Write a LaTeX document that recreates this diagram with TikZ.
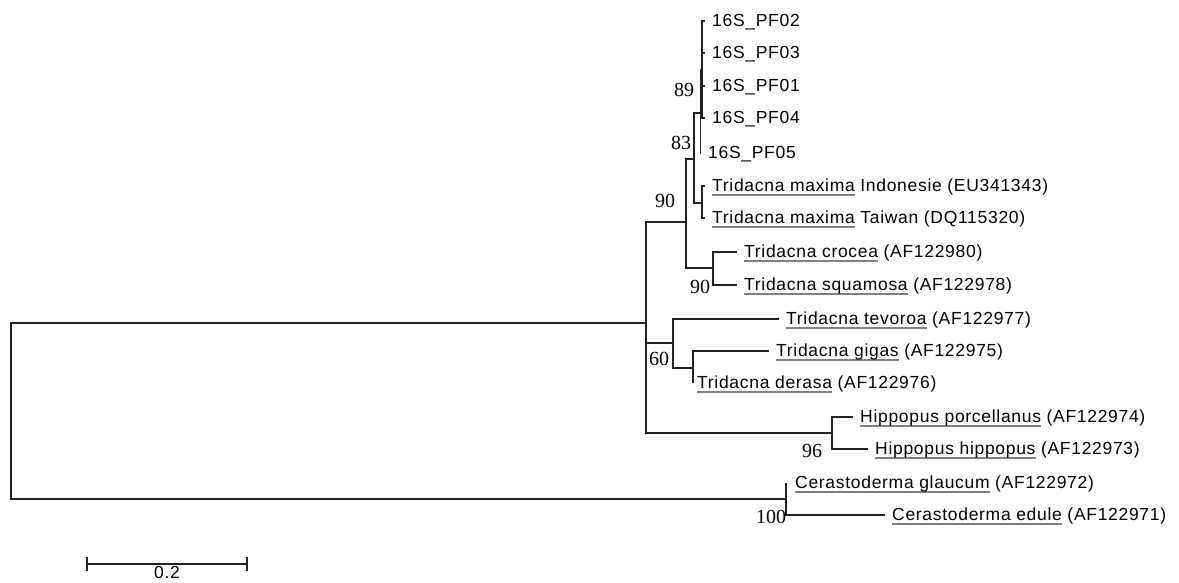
\documentclass[tikz,border=0pt]{standalone}
\usepackage{fontspec}
\setmainfont{Liberation Serif}
\newfontfamily\taxonfont[LetterSpace=4]{Liberation Sans}
\usetikzlibrary{positioning}
\definecolor{branchgray}{HTML}{222222}
\definecolor{ulinegray}{HTML}{808080}
% species part of a taxon label, underlined in gray
\newcommand{\spname}[1]{\begingroup\setbox0\hbox{#1}\rlap{\color{ulinegray}\rule[-5pt]{\wd0}{1.6pt}}\box0\endgroup}
\tikzset{
    branch/.style={draw=branchgray, line width=1.6pt},
    taxon/.style={inner sep=0pt, text height=13pt, text depth=3pt, font=\taxonfont\fontsize{17.5}{20}\selectfont},
    boot/.style={inner sep=0pt, font=\fontsize{20}{22}\selectfont},
    scalelabel/.style={inner sep=0pt, font=\taxonfont\fontsize{17.5}{20}\selectfont},
}

\begin{document}
\begin{tikzpicture}[x=1pt, y=-1pt]
    \useasboundingbox (0,0) rectangle (1179,582);
    % internal nodes
    \coordinate (root) at (11,411);
    \coordinate (tri) at (646,323);
    \coordinate (cer) at (786,499);
    \coordinate (cla) at (686,222);
    \coordinate (pfm) at (694,159);
    \coordinate (n83) at (700.4,113);
    \coordinate (n89) at (702,70);
    \coordinate (max) at (702,203);
    \coordinate (cs) at (713,268);
    \coordinate (n60) at (673,343);
    \coordinate (gd) at (693,368);
    \coordinate (hip) at (832,433);
    % tips
    \coordinate (t1) at (705,21);
    \coordinate (t2) at (705,53);
    \coordinate (t3) at (705,86);
    \coordinate (t4) at (705,118);
    \coordinate (t5) at (701,153);
    \coordinate (t6) at (705,186);
    \coordinate (t7) at (705,218);
    \coordinate (t8) at (737,252);
    \coordinate (t9) at (737,285);
    \coordinate (t10) at (779,319);
    \coordinate (t11) at (769,351);
    \coordinate (t12) at (693,383);
    \coordinate (t13) at (853,417);
    \coordinate (t14) at (868,449);
    \coordinate (t15) at (786,483);
    \coordinate (t16) at (885,515);

    \draw[branch] (root) |- (tri) (root) |- (cer);
    \draw[branch] (tri) |- (cla) (tri) |- (n60) (tri) |- (hip);
    \draw[branch] (cla) |- (pfm) (cla) |- (cs);
    \draw[branch] (pfm) |- (n83) (pfm) |- (max);
    \draw[branch] (n83) |- (n89) (n83) |- (t5);
    \draw[branch] (n89) |- (t1) (n89) |- (t2) (n89) |- (t3) (n89) |- (t4);
    \draw[branch] (max) |- (t6) (max) |- (t7);
    \draw[branch] (cs) |- (t8) (cs) |- (t9);
    \draw[branch] (n60) |- (t10) (n60) |- (gd);
    \draw[branch] (gd) |- (t11) (gd) |- (t12);
    \draw[branch] (hip) |- (t13) (hip) |- (t14);
    \draw[branch] (cer) |- (t15) (cer) |- (t16);

    \node[taxon, right=7pt of t1] (l1) {16S\_PF02};
    \node[taxon, right=7pt of t2] (l2) {16S\_PF03};
    \node[taxon, right=7pt of t3] (l3) {16S\_PF01};
    \node[taxon, right=7pt of t4] (l4) {16S\_PF04};
    \node[taxon, right=7pt of t5] (l5) {16S\_PF05};
    \node[taxon, right=7pt of t6] (l6) {\spname{Tridacna maxima} Indonesie (EU341343)};
    \node[taxon, right=7pt of t7] (l7) {\spname{Tridacna maxima} Taiwan (DQ115320)};
    \node[taxon, right=7pt of t8] (l8) {\spname{Tridacna crocea} (AF122980)};
    \node[taxon, right=7pt of t9] (l9) {\spname{Tridacna squamosa} (AF122978)};
    \node[taxon, right=7pt of t10] (l10) {\spname{Tridacna tevoroa} (AF122977)};
    \node[taxon, right=7pt of t11] (l11) {\spname{Tridacna gigas} (AF122975)};
    \node[taxon, right=4pt of t12] (l12) {\spname{Tridacna derasa} (AF122976)};
    \node[taxon, right=7pt of t13] (l13) {\spname{Hippopus porcellanus} (AF122974)};
    \node[taxon, right=7pt of t14] (l14) {\spname{Hippopus hippopus} (AF122973)};
    \node[taxon, right=9pt of t15] (l15) {\spname{Cerastoderma glaucum} (AF122972)};
    \node[taxon, right=7pt of t16] (l16) {\spname{Cerastoderma edule} (AF122971)};

    % bootstrap values
    \node[boot] (b89) at (684,90) {89};
    \node[boot] (b83) at (681,143) {83};
    \node[boot] (b90a) at (665,201) {90};
    \node[boot] (b90b) at (700,287) {90};
    \node[boot] (b60) at (659,359) {60};
    \node[boot] (b96) at (812,451) {96};
    \node[boot] (b100) at (771,517) {100};

    % scale bar
    \coordinate (sb1) at (87,564);
    \coordinate (sb2) at (247,564);
    \draw[branch] (sb1) -- (sb2);
    \draw[branch] ([yshift=7pt]sb1) -- ([yshift=-7pt]sb1);
    \draw[branch] ([yshift=7pt]sb2) -- ([yshift=-7pt]sb2);
    \node[scalelabel] (sblabel) at (167,572) {0.2};
\end{tikzpicture}
\end{document}
